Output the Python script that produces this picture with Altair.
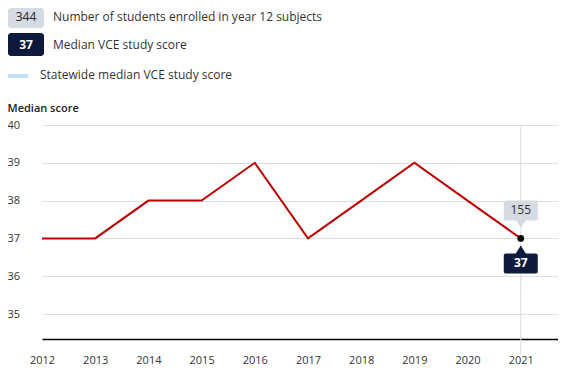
import altair as alt
import pandas as pd

years = [2012, 2013, 2014, 2015, 2016, 2017, 2018, 2019, 2020, 2021]
scores = [37, 37, 38, 38, 39, 37, 38, 39, 38, 37]
y_ticks = [35, 36, 37, 38, 39, 40]
hover_year = 2021
hover_score = 37
hover_students = 155
legend_students = "344"
legend_score = "37"
legend_texts = ["Number of students enrolled in year 12 subjects",
                "Median VCE study score",
                "Statewide median VCE study score"]

FONT = "Open Sans"
FS = 11
LFS = 12
df = pd.DataFrame({"year": years, "score": scores})
hover = pd.DataFrame({"year": [hover_year], "score": [hover_score],
                      "students": [str(hover_students)], "med": [str(hover_score)]})

xs = alt.Scale(domain=[2012, 2021.70], nice=False, zero=False)
ys = alt.Scale(domain=[34.34, 40], nice=False, zero=False)

x_enc = alt.X("year:Q", scale=xs, axis=alt.Axis(
    values=years, format="d", title=None, grid=False, ticks=False,
    domainColor="#000", domainWidth=1.3, labelPadding=15, labelFontSize=FS,
    labelColor="#333", labelFont=FONT, labelFlush=False))
y_enc = alt.Y("score:Q", scale=ys, axis=alt.Axis(
    values=y_ticks, title="Median score", titleAngle=0, titleAlign="left",
    titleBaseline="middle", titleX=-35, titleY=-17, titleFont=FONT,
    titleFontSize=FS, titleFontWeight=600, titleColor="#222",
    grid=True, gridColor="#dedede", gridWidth=1.2, ticks=False, domain=False,
    labelAlign="left", labelPadding=35, labelFontSize=FS, labelColor="#333",
    labelFont=FONT))

rule = alt.Chart(hover).mark_rule(color="#dcdcdc", strokeWidth=1).encode(
    x=alt.X("year:Q", scale=xs), y=alt.value(0), y2=alt.value(230))

line = alt.Chart(df).mark_line(color="#c00000", strokeWidth=2).encode(x=x_enc, y=y_enc)

pt = alt.Chart(hover).mark_point(filled=True, color="#000", size=45, opacity=1).encode(
    x=alt.X("year:Q", scale=xs), y=alt.Y("score:Q", scale=ys))

up_path = ("M -15 -38 L 15 -38 Q 17 -38 17 -36 L 17 -20 Q 17 -18 15 -18 L 5 -18 "
           "L 0 -11 L -5 -18 L -15 -18 Q -17 -18 -17 -20 L -17 -36 Q -17 -38 -15 -38 Z")
dn_path = ("M -15 35 L 15 35 Q 17 35 17 33 L 17 17 Q 17 15 15 15 L 5 15 "
           "L 0 7 L -5 15 L -15 15 Q -17 15 -17 17 L -17 33 Q -17 35 -15 35 Z")

up_box = alt.Chart(hover).mark_point(shape=up_path, size=4, filled=True,
                                     color="#d5dae3", opacity=1).encode(
    x=alt.X("year:Q", scale=xs), y=alt.Y("score:Q", scale=ys))
dn_box = alt.Chart(hover).mark_point(shape=dn_path, size=4, filled=True,
                                     color="#0d1a3b", opacity=1).encode(
    x=alt.X("year:Q", scale=xs), y=alt.Y("score:Q", scale=ys))
up_txt = alt.Chart(hover).mark_text(font=FONT, fontSize=LFS, color="#333",
                                    yOffset=-28, baseline="middle").encode(
    x=alt.X("year:Q", scale=xs), y=alt.Y("score:Q", scale=ys), text="students:N")
dn_txt = alt.Chart(hover).mark_text(font=FONT, fontSize=LFS, color="#fff",
                                    fontWeight="bold", yOffset=25, baseline="middle").encode(
    x=alt.X("year:Q", scale=xs), y=alt.Y("score:Q", scale=ys), text="med:N")

# legend decorations (pixel positions relative to plot area)
one = pd.DataFrame({"a": [0]})
box1 = alt.Chart(one).mark_rect(color="#d5dae3", cornerRadius=3).encode(
    x=alt.value(-34), x2=alt.value(2), y=alt.value(-117), y2=alt.value(-97))
box2 = alt.Chart(one).mark_rect(color="#0d1a3b", cornerRadius=3).encode(
    x=alt.value(-34), x2=alt.value(2), y=alt.value(-92), y2=alt.value(-69))
blue = alt.Chart(one).mark_rule(color="#bfe0f8", strokeWidth=4).encode(
    x=alt.value(-34), x2=alt.value(-14), y=alt.value(-49))
t1 = alt.Chart(one).mark_text(text=legend_students, font=FONT, fontSize=LFS,
                              color="#222", align="center", baseline="middle").encode(
    x=alt.value(-16), y=alt.value(-108))
t2 = alt.Chart(one).mark_text(text=legend_score, font=FONT, fontSize=LFS, fontWeight="bold",
                              color="#fff", align="center", baseline="middle").encode(
    x=alt.value(-16), y=alt.value(-80))
l1 = alt.Chart(one).mark_text(text=legend_texts[0], font=FONT, fontSize=LFS,
                              color="#333", align="left", baseline="middle").encode(
    x=alt.value(11), y=alt.value(-108))
l2 = alt.Chart(one).mark_text(text=legend_texts[1], font=FONT, fontSize=LFS,
                              color="#333", align="left", baseline="middle").encode(
    x=alt.value(11), y=alt.value(-80))
l3 = alt.Chart(one).mark_text(text=legend_texts[2], font=FONT, fontSize=LFS,
                              color="#333", align="left", baseline="middle").encode(
    x=alt.value(-2), y=alt.value(-50))

chart = alt.layer(rule, line, pt, up_box, dn_box, up_txt, dn_txt,
                  box1, box2, blue, t1, t2, l1, l2, l3).properties(
    width=516, height=214,
    autosize=alt.AutoSizeParams(type="none"),
    padding={"left": 34, "top": 117, "right": 0, "bottom": 40},
).configure_view(stroke=None)

chart.save("out.html", embed_options={"renderer": "svg", "actions": False})
